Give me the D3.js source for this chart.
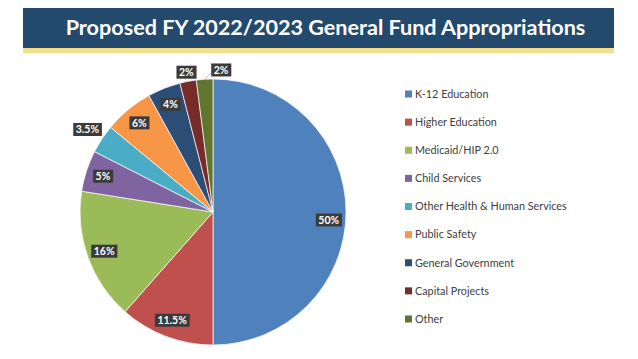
<!DOCTYPE html>
<html><head><meta charset="utf-8">
<script src="https://cdn.jsdelivr.net/npm/d3@7"></script>
<style>html,body{margin:0;padding:0;background:#fff;}svg{display:block;}</style>
</head><body>
<script>
const title = "Proposed FY 2022/2023 General Fund Appropriations";
const categories = ["K-12 Education","Higher Education","Medicaid/HIP 2.0","Child Services","Other Health & Human Services","Public Safety","General Government","Capital Projects","Other"];
const values = [50, 11.5, 16, 5, 3.5, 6, 4, 2, 2];
const valueLabels = ["50%","11.5%","16%","5%","3.5%","6%","4%","2%","2%"];
const colors = ["#4F81BD","#C0504D","#9BBB59","#8064A2","#4BACC6","#F79646","#2C4D75","#772C2A","#5F7530"];

const W = 638, H = 359;
const svg = d3.select("body").append("svg").attr("width", W).attr("height", H);

// Title banner
svg.append("rect").attr("x",23).attr("y",47).attr("width",591).attr("height",6).attr("fill","#F2DF8C");
svg.append("rect").attr("x",23).attr("y",8).attr("width",591).attr("height",40).attr("fill","#234A6D");
svg.append("text").attr("x",325.5).attr("y",35).attr("text-anchor","middle")
  .attr("font-family","Lato").attr("font-weight",700).attr("font-size",21.6).attr("fill","#fff").text(title);

// Pie
const cx = 213, cy = 212, R = 133;
const pie = d3.pie().sort(null).value(d => d)(values);
const arc = d3.arc().innerRadius(0).outerRadius(R);
const g = svg.append("g").attr("transform", `translate(${cx},${cy})`);
g.selectAll("path").data(pie).join("path")
  .attr("d", arc).attr("fill", (d,i) => colors[i])
  .attr("stroke","#fff").attr("stroke-width",0.7);

// label placement rules (radius factor of R, plus special offsets)
function labelPos(d, i) {
  const a = (d.startAngle + d.endAngle) / 2;
  let rf = 0.87;
  if (d.value < 4) rf = (i === 4 ? 1.13 : 1.07);
  let x = Math.sin(a) * R * rf, y = -Math.cos(a) * R * rf;
  if (i === 0) y += 8;
  if (i === 8) { x += 17; }
  return [x, y];
}

// leader line for last slice
const last = pie[8];
const la = (last.startAngle + last.endAngle) / 2;
const p0 = [Math.sin(la) * R, -Math.cos(la) * R];
const lp = labelPos(last, 8);
g.append("path").attr("d", `M${p0[0]},${p0[1]}L${lp[0]-10},${lp[1]+3}`)
  .attr("stroke","#A6A6A6").attr("stroke-width",0.8).attr("fill","none");

const labels = g.selectAll("g.lbl").data(pie).join("g").attr("class","lbl")
  .attr("transform", (d,i) => { const p = labelPos(d,i); return `translate(${p[0]},${p[1]})`; });
labels.each(function(d,i){
  const sel = d3.select(this);
  const t = sel.append("text").attr("text-anchor","middle").attr("dy","0.35em")
    .attr("font-family","Lato").attr("font-weight",700).attr("font-size",10.5).attr("fill","#fff")
    .text(valueLabels[i]);
  const bb = t.node().getBBox();
  sel.insert("rect","text").attr("x",bb.x-2.5).attr("y",-6.5).attr("width",bb.width+5).attr("height",13)
    .attr("fill","#3B3B3B");
});

// Legend
const leg = svg.append("g");
const rowY = d3.scalePoint().domain(d3.range(categories.length)).range([94, 319]);
categories.forEach((c,i) => {
  const y = rowY(i);
  leg.append("rect").attr("x",405).attr("y",y-3.5).attr("width",7).attr("height",7).attr("fill",colors[i]);
  leg.append("text").attr("x",415).attr("y",y).attr("dy","0.35em")
    .attr("font-family","Lato").attr("font-size",10.8).attr("fill","#404040").text(c);
});
</script>
</body></html>
